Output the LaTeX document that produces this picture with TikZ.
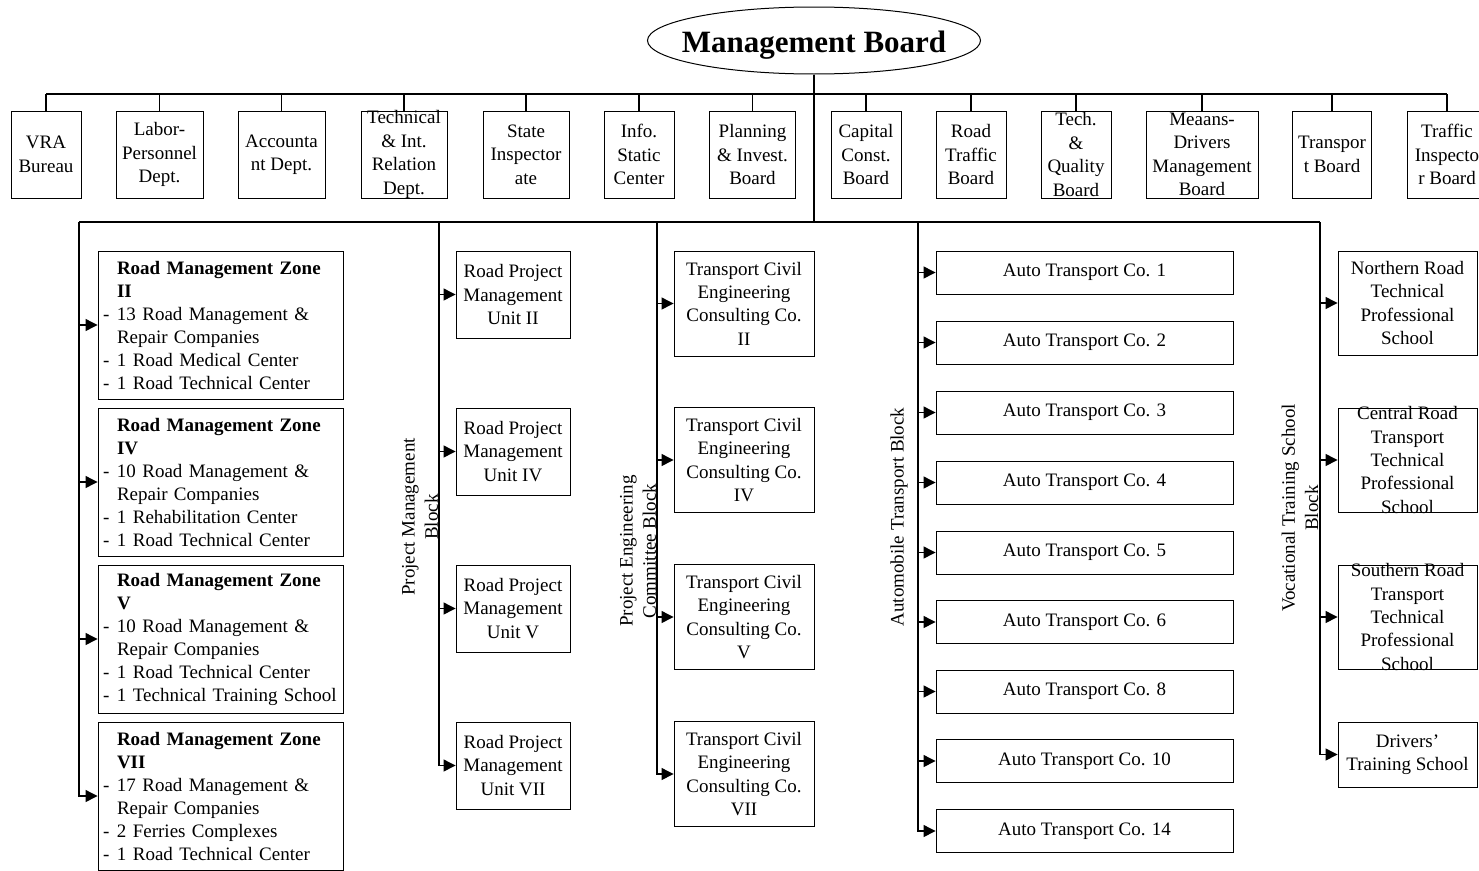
\documentclass[tikz,border=0pt]{standalone}
\usepackage{fontspec}
\setmainfont{Liberation Serif}
\usetikzlibrary{arrows.meta,shapes.geometric}
\newcommand\dit{\makebox[14pt][l]{-}}
\newcommand\hin{\hspace*{14pt}}
\begin{document}
\begin{tikzpicture}[x=1pt,y=-1pt,
  lbl/.style={font=\fontsize{19}{23.3}\selectfont},
  box/.style={draw, line width=0.9pt, align=center, inner xsep=1pt, inner ysep=-30pt, lbl},
  topbox/.style={box, font=\fontsize{19}{23.5}\selectfont, minimum height=87pt},
  zone/.style={draw, line width=0.9pt, align=left, text width=235pt, inner xsep=5pt, inner ysep=-30pt, minimum height=148pt, font=\fontsize{19}{23}\selectfont},
  con/.style={line width=1.2pt},
  arr/.style={con, -{Triangle[length=12pt,width=12pt]}},
  blk/.style={lbl, rotate=90, align=center}]
\clip (0,0) rectangle (1479,870);
\fill[white] (0,0) rectangle (1479,870);

% Management board
\node[ellipse, draw, line width=1pt, minimum width=333pt, minimum height=67pt, inner xsep=-30pt, inner ysep=0pt,
      text height=23pt, text depth=0pt,
      font=\fontsize{31}{36}\selectfont\bfseries] (mb) at (814,40.5) {Management Board};

% top row
\node[topbox, minimum width=70pt] (t1) at (46,154.5) {VRA\\Bureau};
\node[topbox, minimum width=87pt] (t2) at (159.5,154.5) {Labor-\\Personnel\\Dept.};
\node[topbox, minimum width=87pt] (t3) at (281.5,154.5) {Accounta\\nt Dept.};
\node[topbox, minimum width=86pt] (t4) at (404,154.5) {Technical\\\& Int.\\Relation\\Dept.};
\node[topbox, minimum width=86pt] (t5) at (526,154.5) {State\\Inspector\\ate};
\node[topbox, minimum width=70pt] (t6) at (639,154.5) {Info.\\Static\\Center};
\node[topbox, minimum width=86pt] (t7) at (752.5,154.5) {Planning\\\& Invest.\\Board};
\node[topbox, minimum width=70pt] (t8) at (866,154.5) {Capital\\Const.\\Board};
\node[topbox, minimum width=70pt] (t9) at (971,154.5) {Road\\Traffic\\Board};
\node[topbox, minimum width=70pt] (t10) at (1076,154.5) {Tech.\\\&\\Quality\\Board};
\node[topbox, minimum width=112pt] (t11) at (1202,154.5) {Meaans-\\Drivers\\Management\\Board};
\node[topbox, minimum width=79pt] (t12) at (1332,154.5) {Transpor\\t Board};
\node[topbox, minimum width=79pt] (t13) at (1447,154.5) {Traffic\\Inspecto\\r Board};

\coordinate (tb) at (0,94);
\coordinate (b2) at (0,222);
\draw[con] (mb.south) -- (mb.south |- b2);
\draw[con] (t1.north |- tb) -- (t13.north |- tb);
\foreach \i in {1,...,13} \draw[con] (t\i.north) -- (t\i.north |- tb);

% second bus
\coordinate (c1) at (79,222);
\coordinate (c2) at (439,222);
\coordinate (c3) at (657,222);
\coordinate (c4) at (918,222);
\coordinate (c5) at (1320,222);
\draw[con] (c1) -- (c5);

% road management zones
\node[zone] (z2) at (220.5,325) {\hin\textbf{Road Management Zone}\\\hin\textbf{II}\\\dit 13 Road Management \&\\\hin Repair Companies\\\dit 1 Road Medical Center\\\dit 1 Road Technical Center};
\node[zone] (z4) at (220.5,482) {\hin\textbf{Road Management Zone}\\\hin\textbf{IV}\\\dit 10 Road Management \&\\\hin Repair Companies\\\dit 1 Rehabilitation Center\\\dit 1 Road Technical Center};
\node[zone] (z5) at (220.5,639) {\hin\textbf{Road Management Zone}\\\hin\textbf{V}\\\dit 10 Road Management \&\\\hin Repair Companies\\\dit 1 Road Technical Center\\\dit 1 Technical Training School};
\node[zone] (z7) at (220.5,796) {\hin\textbf{Road Management Zone}\\\hin\textbf{VII}\\\dit 17 Road Management \&\\\hin Repair Companies\\\dit 2 Ferries Complexes\\\dit 1 Road Technical Center};
\foreach \n in {z2,z4,z5,z7} \draw[arr] (c1) |- (\n.west);

% project management block
\node[blk] (pmb) at (420,517) {Project Management\\Block};
\node[box, minimum width=114pt, minimum height=87pt] (p2) at (513,294.5) {Road Project\\Management\\Unit II};
\node[box, minimum width=114pt, minimum height=87pt] (p4) at (513,451.5) {Road Project\\Management\\Unit IV};
\node[box, minimum width=114pt, minimum height=87pt] (p5) at (513,608.5) {Road Project\\Management\\Unit V};
\node[box, minimum width=114pt, minimum height=87pt] (p7) at (513,765.5) {Road Project\\Management\\Unit VII};
\foreach \n in {p2,p4,p5,p7} \draw[arr] (c2) |- (\n.west);

% project engineering committee block
\node[blk] (peb) at (638,551) {Project Engineering\\Committee Block};
\node[box, minimum width=140pt, minimum height=105pt] (e2) at (744,303.5) {Transport Civil\\Engineering\\Consulting Co.\\II};
\node[box, minimum width=140pt, minimum height=105pt] (e4) at (744,460) {Transport Civil\\Engineering\\Consulting Co.\\IV};
\node[box, minimum width=140pt, minimum height=105pt] (e5) at (744,617) {Transport Civil\\Engineering\\Consulting Co.\\V};
\node[box, minimum width=140pt, minimum height=105pt] (e7) at (744,774) {Transport Civil\\Engineering\\Consulting Co.\\VII};
\foreach \n in {e2,e4,e5,e7} \draw[arr] (c3) |- (\n.west);

% automobile transport block
\node[blk] (atb) at (899,517) {Automobile Transport Block};
\foreach \n/\y in {1/272.5,2/342.5,3/412.5,4/482.5,5/552.5,6/622,8/691.5,10/761,14/831}{
  \node[box, minimum width=297pt, minimum height=43pt] (a\n) at (1084.5,\y) {Auto Transport Co. \n};
  \draw[arr] (c4) |- (a\n.west);
}

% vocational training school block
\node[blk] (vtb) at (1300,508) {Vocational Training School\\Block};
\node[box, minimum width=139pt, minimum height=104pt] (s1) at (1407.5,303) {Northern Road\\Technical\\Professional\\School};
\node[box, minimum width=139pt, minimum height=104pt] (s2) at (1407.5,460) {Central Road\\Transport\\Technical\\Professional\\School};
\node[box, minimum width=139pt, minimum height=104pt] (s3) at (1407.5,617) {Southern Road\\Transport\\Technical\\Professional\\School};
\node[box, minimum width=139pt, minimum height=65pt] (s4) at (1407.5,754.5) {Drivers'\\Training School};
\foreach \n in {s1,s2,s3,s4} \draw[arr] (c5) |- (\n.west);
\end{tikzpicture}
\end{document}
